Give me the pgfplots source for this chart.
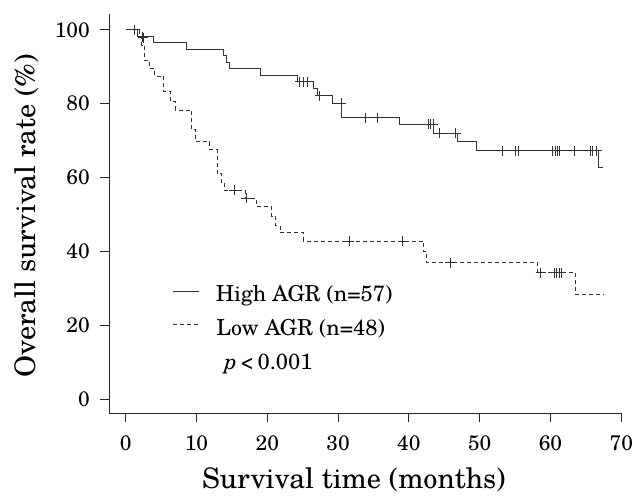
\documentclass[border=0pt]{standalone}
\usepackage{fontspec}
\setmainfont{TeX Gyre Schola}
\usepackage{pgfplots}
\pgfplotsset{compat=1.18}

\begin{document}
\begin{tikzpicture}
\useasboundingbox (-109pt,-82.7pt) rectangle (525pt,413.3pt);
\begin{axis}[
  at={(0pt,0pt)}, anchor=south west,
  scale only axis, width=512.3pt, height=399.3pt,
  xmin=-2.35, xmax=70, ymin=-3.9, ymax=104.3,
  axis lines=left,
  axis line style={-, line width=0.8pt, black!85},
  xtick={0,10,...,70}, ytick={0,20,...,100},
  tick align=outside, major tick length=9pt,
  tick style={line width=0.8pt, black!85},
  /pgf/number format/assume math mode=true,
  tick label style={font=\fontsize{21}{21}\selectfont, inner sep=0pt},
  xticklabel style={anchor=north},
  yticklabel style={anchor=east},
  xticklabel shift=13pt, yticklabel shift=10pt,
  xlabel={Survival time (months)},
  ylabel={Overall survival rate (\%)},
  label style={font=\fontsize{28.3}{28.3}\selectfont, inner sep=0pt},
  xlabel style={at={([yshift=-75pt]axis description cs:0.478,0)}, anchor=base},
  ylabel style={at={([xshift=-73.6pt]axis description cs:0,0.495)}, anchor=base},
  clip=false,
]
% high AGR
\addplot[const plot, line width=0.9pt, black!80] coordinates {
  (0,100)(1.6,98.2)(3.9,96.5)(8.6,94.7)(13.8,93.0)(14.2,91.2)(14.6,89.5)
  (19.1,87.7)(24.3,86.0)(26.5,84.0)(27.1,82.2)(29.2,80.1)(30.5,76.2)
  (38.6,74.4)(43.5,72.0)(46.9,69.7)(49.6,67.3)(66.8,62.8)(67.4,62.8)
};
\addplot[only marks, mark=+, mark size=5pt, black!80, mark options={line width=0.8pt}] coordinates {
  (1.3,100)(2.3,98.2)(24.6,86.0)(25.1,86.0)(25.6,86.0)(27.4,82.2)(30.4,80.1)
  (33.9,76.2)(35.5,76.2)(42.8,74.4)(43.1,74.4)(43.4,74.4)(44.3,72.0)(46.6,72.0)
  (53.2,67.3)(55.1,67.3)(55.5,67.3)(60.2,67.3)(60.7,67.3)(61.0,67.3)(61.2,67.3)
  (63.4,67.3)(65.6,67.3)(65.9,67.3)(66.5,67.3)
};
% low AGR
\addplot[const plot, line width=0.9pt, black!80, dash pattern=on 4pt off 3pt] coordinates {
  (0,100)(1.9,97.9)(2.3,95.8)(2.6,91.7)(3.4,89.6)(4.1,87.5)(5.3,83.3)(6.3,80.6)
  (7.0,78.3)(9.3,72.9)(9.8,69.7)(11.9,67.7)(12.9,61.0)(13.6,58.5)(14.0,56.6)
  (16.9,54.4)(18.5,52.1)(20.6,49.4)(21.1,47.0)(21.8,45.1)(25.1,42.8)
  (42.0,39.9)(42.5,36.9)(58.2,34.2)(63.5,28.4)(67.5,28.4)
};
\addplot[only marks, mark=+, mark size=5pt, black!80, mark options={line width=0.8pt}] coordinates {
  (2.5,97.9)(15.3,56.6)(17.0,54.4)(31.6,42.8)(39.1,42.8)(45.8,36.9)
  (58.6,34.2)(60.6,34.2)(60.9,34.2)(61.2,34.2)(61.5,34.2)
};
% legend
\draw[line width=0.9pt, black!80] (axis cs:6.7,29.2) -- (axis cs:10.3,29.2);
\draw[line width=0.9pt, black!80, dash pattern=on 4pt off 3pt] (axis cs:6.7,20.2) -- (axis cs:10.3,20.2);
\node[anchor=base west, inner sep=0pt, font=\fontsize{22}{22}\selectfont] at (axis cs:12.7,26.3) {High AGR (n=57)};
\node[anchor=base west, inner sep=0pt, font=\fontsize{22}{22}\selectfont] at (axis cs:12.8,17.3) {Low AGR (n=48)};
\node[anchor=base west, inner sep=0pt, font=\fontsize{22}{22}\selectfont] at (axis cs:13.9,7.9) {\textit{p}\,<\,0.001};
\end{axis}
\end{tikzpicture}
\end{document}
